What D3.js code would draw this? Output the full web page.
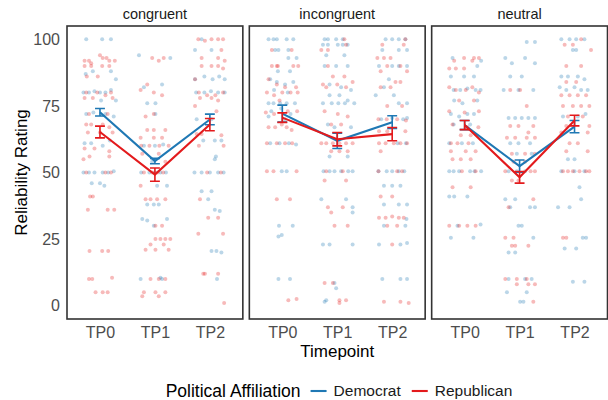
<!DOCTYPE html>
<html>
<head>
<meta charset="utf-8">
<script src="https://cdn.jsdelivr.net/npm/d3@7"></script>
<style>
  html, body { margin: 0; padding: 0; background: #fff; }
  svg { display: block; font-family: "Liberation Sans", Arial, sans-serif; }
</style>
</head>
<body>
<svg id="chart" width="608" height="400"></svg>
<script>
// ---------------- DATA ----------------
const facets = ["congruent", "incongruent", "neutral"];
const timepoints = ["TP0", "TP1", "TP2"];
const parties = ["Democrat", "Republican"];
const yTicks = [0, 25, 50, 75, 100];

// means and error-bar half widths per facet (rows) x timepoint (cols)
const demMeans = [[72.6, 54.3, 69.9], [72.1, 61.9, 68.9], [67.8, 52.4, 67.2]];
const demErr   = [[1.4, 1.0, 2.0], [3.2, 2.9, 2.4], [1.7, 2.3, 2.3]];
const repMeans = [[65.2, 49.2, 68.0], [70.6, 62.5, 64.4], [67.8, 48.2, 69.5]];
const repErr   = [[2.2, 2.5, 2.3], [1.8, 2.5, 2.5], [1.7, 2.2, 2.0]];

// individual ratings: [horizontal jitter (category units), rating]
const congruentTP0Dem = [[-0.25,100],[0.04,100],[0.2,100],[-0.26,87],[-0.13,88],[0.2,88],[0.29,85],[-0.3,80],[-0.2,80],[-0.1,80.5],[0,80],[0.1,80],[0.2,81],[0.02,77],[0.29,77],[-0.25,72],[-0.12,72.5],[0.1,72],[0.25,71],[-0.28,61],[-0.16,61],[0.05,60],[0.18,62],[-0.3,50],[-0.2,50],[-0.1,50],[0.05,50],[0.15,50],[0.25,50.5],[-0.15,46],[0,46],[0.08,45]];
const congruentTP0Rep = [[0,94],[0.05,93],[0.12,93],[0.17,92],[-0.28,92],[-0.2,92],[-0.16,91],[0.27,92],[-0.28,90],[-0.16,90],[0.04,90],[0.17,90],[-0.24,86],[-0.04,86],[-0.25,80],[-0.05,80],[0.1,79],[0.2,80],[-0.28,78],[-0.13,78],[0.23,78],[-0.2,72],[0.14,72],[-0.25,68],[-0.16,68],[0.05,68],[0.17,67],[-0.22,65],[0,65],[0.23,65],[-0.28,59],[-0.1,59],[0.17,58],[-0.3,55],[-0.19,56],[0.17,56],[-0.25,50],[0.1,50],[0.2,50],[-0.18,41],[-0.13,41],[-0.22,36],[0.14,36],[0.26,36],[-0.19,20.5],[0.04,20.5],[0.15,20.5],[-0.2,10],[-0.14,10],[0.22,10.5],[-0.08,5],[0.05,5],[0.14,5]];
const congruentTP1Dem = [[-0.29,94],[0.28,93],[-0.2,82],[0.13,83],[-0.14,76],[0.01,76],[0.01,72],[-0.2,60],[0,60],[0.15,60.5],[-0.05,54],[-0.25,50],[-0.1,50],[0,50],[0.1,50],[0.2,50],[0.04,45],[0.22,45],[-0.14,38],[-0.02,38],[0.07,38],[-0.23,32.5],[-0.14,32],[0.22,32.5],[-0.02,30],[-0.26,10],[0.13,10],[0.1,10.5]];
const congruentTP1Rep = [[-0.05,93],[0.07,92],[0.16,93],[-0.26,81],[-0.14,83],[-0.02,80],[0.13,79],[-0.17,71],[-0.02,72],[-0.14,66],[-0.02,66],[0.19,66],[-0.26,63],[-0.02,63],[0.13,63],[-0.25,60],[-0.1,60],[0.08,60],[0.25,60],[-0.23,57],[0.07,57],[0.19,54],[-0.2,50],[-0.05,50],[0.05,50],[0.15,50],[-0.26,45],[-0.17,40],[-0.08,40],[0.04,40],[0.19,40],[0.01,30],[0.13,30],[0.01,25],[0.1,25],[0.19,25],[0.28,25],[-0.08,23],[0.16,23],[-0.17,21],[0.01,21],[0.25,21],[-0.08,10],[0.07,10],[0.19,10],[-0.2,5],[0.01,5],[0.19,5],[-0.23,3.5],[0.07,3.5]];
const congruentTP2Dem = [[-0.15,100],[-0.27,96],[0.03,96],[-0.27,85],[-0.1,86],[0.05,85],[0.17,86],[0.27,85],[-0.25,80],[-0.1,80],[0.02,80.5],[0.15,80],[0.27,80],[-0.24,70],[0.03,70],[-0.12,62],[0.09,62],[0.21,62],[0.09,55],[0.11,56],[-0.28,50],[-0.15,50],[0,50],[0.15,50],[0.25,50],[-0.15,43],[0.03,43],[-0.03,40],[0.09,36],[0.18,35.5],[0.03,20.5],[0.12,20.5],[0.21,20],[0.13,10]];
const congruentTP2Rep = [[-0.21,100],[-0.09,99.5],[0.03,100],[0.15,100],[0.24,100],[0.21,96],[-0.15,93],[0.15,93],[0.27,92],[-0.15,90],[0.03,90],[0.15,90],[0.24,89],[-0.27,85],[-0.2,80],[-0.05,79],[0.1,79],[0.24,80],[-0.18,78],[0.03,78],[0.15,77],[-0.27,75],[0.12,73],[-0.24,64.5],[-0.15,64.5],[0.21,64],[-0.2,60],[0.25,60],[-0.05,50],[0.2,50],[-0.18,40],[-0.03,33],[0.15,33],[0.24,27],[-0.21,27],[-0.12,12],[-0.09,12],[0.15,12],[0.26,1]];

const incongruentTP0Dem = [[-0.25,100],[-0.16,100],[-0.1,100],[0.08,100],[0.2,100],[-0.13,96],[-0.07,96],[0.11,96],[0.11,93],[0.26,93],[-0.08,88],[0.14,88],[-0.22,85],[-0.1,84],[0.05,83],[0.2,84],[-0.15,81],[0.1,80],[-0.25,76],[-0.16,76],[-0.04,76],[0.08,76],[0.23,76],[-0.2,73],[-0.02,74],[0.15,72],[-0.25,71],[0.05,70],[-0.22,61],[-0.05,61],[0.12,61],[0.25,60.5],[-0.01,50.5],[0.08,50.5],[-0.06,30],[0.19,30],[-0.07,26],[-0.01,26.5],[-0.07,10],[0.14,10]];
const incongruentTP0Rep = [[-0.19,96],[0.17,96],[-0.19,90],[-0.1,90],[-0.08,90],[0.2,90],[0.29,90],[-0.25,85],[-0.1,83],[0.05,82],[0.25,82],[-0.28,80],[-0.15,79],[0,80],[0.15,80],[0.28,80],[-0.05,77],[-0.3,72.5],[-0.15,72],[0.1,73],[0.27,73],[-0.25,67],[-0.13,67],[-0.01,68],[0.08,67],[0.17,66],[-0.28,61],[-0.1,61],[0.05,61],[0.18,61],[-0.28,50.5],[-0.16,50.5],[0.26,50.5],[-0.1,40],[0.14,40],[0.11,2],[0.26,2.5]];
const incongruentTP1Dem = [[-0.23,100],[-0.17,100],[-0.02,100],[0.1,100],[-0.26,98],[-0.17,98],[0.01,98],[0.1,98],[0.19,98],[-0.2,94],[0.13,94],[-0.23,90],[-0.02,90],[0.19,90],[-0.14,83],[0.07,82],[0.25,81],[-0.14,79],[0.04,79],[0.19,77],[0.31,76],[-0.26,76],[-0.1,76],[0.02,76],[0.14,76],[-0.17,68],[-0.05,67],[0.25,67],[-0.14,56],[0.19,56],[-0.25,50.5],[-0.14,50.5],[-0.05,50.5],[0.07,50.5],[0.2,50.5],[0.28,50.5],[-0.29,40],[0.16,40],[0.28,37],[0.28,35],[-0.26,23],[-0.14,23],[0.28,23],[-0.05,8.5],[-0.02,6.5],[-0.2,2],[-0.23,1.5]];
const incongruentTP1Rep = [[0.13,100],[0.16,98],[-0.29,96],[-0.17,96],[-0.17,90],[-0.08,86],[0.13,86],[-0.26,83],[-0.2,82],[0,83],[0.16,82],[0.28,84],[-0.23,73],[0.01,72],[0.19,71],[-0.11,68],[0.07,68],[-0.29,61],[-0.2,61],[-0.08,61],[0.04,61],[0.16,61],[0.28,61],[-0.11,58],[0.04,58],[0.19,58],[-0.2,50.5],[0.1,50.5],[-0.23,47],[0.16,47],[-0.17,37],[0.1,37],[-0.11,35],[-0.05,30],[0.19,30],[-0.23,8.5],[-0.08,8.5],[0.04,2],[0.16,2],[0.04,1]];
const incongruentTP2Dem = [[-0.12,100],[0,100],[0.12,100],[0.24,100],[-0.18,96],[0.12,96],[0.27,96],[-0.24,90],[0,90],[0.12,90],[0.27,90],[-0.06,85],[-0.15,82],[-0.3,79],[0.03,79],[0.12,76],[0.27,76],[-0.2,70],[0,70.5],[0.2,70],[0.27,70.5],[0.1,61],[0.25,61],[-0.25,50.5],[-0.1,50.5],[0,50.5],[0.12,50.5],[0.22,50.5],[-0.15,45],[0,45],[0.15,45],[-0.15,38],[0.12,38],[0.27,38],[-0.15,30],[0.24,30],[0.26,32.5],[-0.24,23],[0.15,23],[0.27,23.5],[-0.18,10],[0.15,10],[0.27,10]];
const incongruentTP2Rep = [[0.24,100],[-0.18,98],[0.21,98],[-0.27,93],[-0.15,93],[-0.03,93],[-0.09,90],[0.15,90],[-0.21,88],[0.27,88],[0.06,84],[0.15,84],[-0.21,82],[-0.03,82],[-0.09,75],[0.18,75],[-0.25,70],[-0.1,70],[0.09,70],[0.25,69.5],[-0.24,65.5],[-0.09,65.5],[0.24,65.5],[-0.24,61],[-0.12,61],[0.03,61],[0.15,61],[0.27,61],[-0.21,58],[-0.25,50.5],[0.09,50.5],[0.18,50.5],[-0.21,41],[0,41],[-0.24,33],[-0.12,33],[0,33.5],[0.12,33],[0.21,33],[-0.09,30],[0.09,30],[0,23],[-0.15,1.5],[0.15,1.5],[0.3,1]];

const neutralTP0Dem = [[-0.22,93],[0.3,92],[0.23,90],[-0.25,86],[-0.01,86],[0.17,86],[-0.2,81],[-0.08,81],[0.05,81.5],[0.2,81],[0.29,81],[-0.19,77],[-0.04,76],[0.23,77],[-0.25,72],[-0.1,71],[0.05,72],[0.17,72],[-0.2,68],[0.1,68],[-0.28,61],[-0.05,61],[0.15,61],[-0.28,50.5],[-0.2,50.5],[-0.1,50.5],[0.1,50.5],[0.18,50.5],[0.3,50.5],[-0.28,41],[-0.19,41],[0.05,41],[0.29,30.5],[-0.13,30],[-0.25,25.5],[0.16,25.5]];
const neutralTP0Rep = [[-0.19,92],[-0.01,93],[0.14,92],[0.17,93],[0.26,93],[-0.28,89],[-0.16,89],[-0.01,89],[-0.28,82],[-0.16,81],[0.02,81],[0.14,82],[0.26,80],[-0.1,77],[0.17,77],[-0.28,73],[0,72.5],[0.26,73],[-0.22,68],[0.05,67],[0.25,67],[-0.07,64],[0.11,64],[-0.25,61],[-0.13,61],[0.07,61],[-0.25,58],[0.02,58],[0.2,58],[-0.22,55],[-0.07,55],[0.11,55],[-0.05,50.5],[0.2,50.5],[-0.22,44.5],[0.11,44.5],[-0.28,30],[-0.1,30],[0.05,30],[0.2,30]];
const neutralTP1Dem = [[0.13,99],[0.28,99],[-0.26,93],[0.1,93],[-0.14,91],[0.28,91],[-0.17,86],[0.04,86],[-0.29,81],[-0.02,81],[0.25,81],[-0.2,70.5],[-0.08,70.5],[0.04,70.5],[0.16,70.5],[0.28,70.5],[-0.17,61],[-0.02,61],[0.19,61],[-0.05,57],[0.22,57],[-0.2,50.5],[-0.05,50.5],[0.1,50.5],[-0.26,40],[-0.08,40],[-0.17,37],[0.19,37],[0.28,37],[-0.02,30],[0.04,30],[0.25,25.5],[-0.2,20],[-0.08,20],[-0.2,10],[0.1,10],[0.22,10],[-0.23,5],[0.13,5],[0.01,1.5],[0.07,1.5]];
const neutralTP1Rep = [[-0.17,81],[0.01,81],[0.13,75],[-0.17,67.5],[-0.02,67.5],[0.25,67.5],[0.16,65],[-0.23,63],[-0.08,63],[0.13,63],[0.28,63],[-0.14,57],[0.1,57],[0.28,57],[-0.11,54],[0.1,54],[-0.26,50.5],[0.2,50.5],[0.28,50.5],[-0.14,47],[-0.02,47],[0.25,40],[-0.2,37],[-0.26,25.5],[-0.11,25.5],[-0.08,22.5],[-0.14,22.5],[0.16,22.5],[-0.26,10],[-0.05,10],[0.13,10],[-0.05,8],[0.16,8],[0.28,8],[0.25,1.5]];
const neutralTP2Dem = [[-0.24,100],[-0.09,100],[0.03,100],[0.18,100],[-0.03,96],[0.03,96],[-0.24,86],[-0.12,86],[0.06,86],[0.18,85],[-0.27,82],[-0.15,81],[0,82],[0.12,81],[0.24,81],[-0.21,71],[0.06,71],[0.2,72],[-0.12,55],[0,55],[-0.24,50.5],[0,50.5],[0.18,50.5],[0.09,44.5],[0.12,40],[-0.3,37],[-0.09,37],[0.15,25.5],[0.21,25.5],[-0.18,21.5],[0.03,21.5],[-0.03,9],[0.18,9]];
const neutralTP2Rep = [[0.12,100],[-0.18,98],[-0.03,98],[0.3,96],[-0.15,90],[0.12,90],[-0.15,84],[0.03,84],[-0.24,79],[-0.09,79],[0.06,79],[0.21,79],[-0.21,75],[-0.03,75],[0.12,75],[0.27,75],[-0.12,71],[0.15,71],[-0.15,67.5],[0.27,67.5],[-0.24,65],[0.24,65],[-0.09,61],[0.06,61],[-0.15,58],[0.24,58],[-0.21,50.5],[-0.12,50.5],[-0.03,50.5],[0.09,50.5],[0.21,50.5],[0.27,50.5],[-0.21,25.5],[-0.15,25.5]];

// ---------------- ASSEMBLY ----------------
const pointTable = {
  congruent:   { TP0: [congruentTP0Dem, congruentTP0Rep], TP1: [congruentTP1Dem, congruentTP1Rep], TP2: [congruentTP2Dem, congruentTP2Rep] },
  incongruent: { TP0: [incongruentTP0Dem, incongruentTP0Rep], TP1: [incongruentTP1Dem, incongruentTP1Rep], TP2: [incongruentTP2Dem, incongruentTP2Rep] },
  neutral:     { TP0: [neutralTP0Dem, neutralTP0Rep], TP1: [neutralTP1Dem, neutralTP1Rep], TP2: [neutralTP2Dem, neutralTP2Rep] }
};
const meanTable = { Democrat: [demMeans, demErr], Republican: [repMeans, repErr] };

const colors = d3.scaleOrdinal().domain(parties).range(["#1F78B4", "#E31A1C"]);

const svg = d3.select("#chart");
const W = 608, H = 400;
const margin = { left: 67, right: 0.5, top: 26, bottom: 81 };
const gap = 6.5;
const panelW = (W - margin.left - margin.right - 2 * gap) / 3;
const panelTop = margin.top, panelBottom = H - margin.bottom;

const y = d3.scaleLinear().domain([-5, 105]).range([panelBottom, panelTop]);
const x = d3.scalePoint().domain(timepoints).range([0, panelW]).padding(0.6);
const step = x.step();

const fontTick = 16, tickColor = "#4D4D4D";

// y axis
const yAxis = d3.axisLeft(y).tickValues(yTicks).tickSize(0).tickPadding(7);
const yg = svg.append("g").attr("transform", `translate(${margin.left},0)`).call(yAxis);
yg.select(".domain").remove();
yg.selectAll("text").attr("font-size", fontTick).attr("fill", tickColor)
  .attr("font-family", "Liberation Sans, Arial, sans-serif");

facets.forEach((f, fi) => {
  const px = margin.left + fi * (panelW + gap);
  const g = svg.append("g").attr("transform", `translate(${px},0)`);

  // strip label
  g.append("text").attr("x", panelW / 2).attr("y", 18.5).attr("text-anchor", "middle")
    .attr("font-size", 14.5).attr("fill", "#1A1A1A").text(f);

  // points
  const pts = [];
  timepoints.forEach(tp => {
    parties.forEach((p, pi) => {
      pointTable[f][tp][pi].forEach(d => pts.push({ tp, party: p, dx: d[0], v: d[1] }));
    });
  });
  g.append("g").selectAll("circle").data(pts).join("circle")
    .attr("cx", d => x(d.tp) + d.dx * step)
    .attr("cy", d => y(d.v))
    .attr("r", 2)
    .attr("fill", d => colors(d.party))
    .attr("fill-opacity", 0.3);

  // lines + error bars
  parties.forEach(p => {
    const [means, errs] = meanTable[p];
    const rows = timepoints.map((tp, ti) => ({ tp, m: means[fi][ti], e: errs[fi][ti] }));
    const col = colors(p);
    const eg = g.append("g");
    eg.selectAll("path.eb").data(rows).join("path").attr("class", "eb")
      .attr("d", d => {
        const cx = x(d.tp), hw = 0.09 * step;
        const t = y(d.m + d.e), b = y(d.m - d.e);
        return `M${cx - hw},${t}H${cx + hw}M${cx},${t}V${b}M${cx - hw},${b}H${cx + hw}`;
      })
      .attr("fill", "none").attr("stroke", col).attr("stroke-width", 1.6);
    eg.append("path").datum(rows)
      .attr("d", d3.line().x(d => x(d.tp)).y(d => y(d.m)))
      .attr("fill", "none").attr("stroke", col).attr("stroke-width", 2.1);
  });

  // panel border
  g.append("rect").attr("x", 0).attr("y", panelTop).attr("width", panelW)
    .attr("height", panelBottom - panelTop).attr("fill", "none")
    .attr("stroke", "#333333").attr("stroke-width", 1.6);

  // x axis
  const xg = g.append("g").attr("transform", `translate(0,${panelBottom})`)
    .call(d3.axisBottom(x).tickSize(0).tickPadding(8));
  xg.select(".domain").remove();
  xg.selectAll("text").attr("font-size", fontTick).attr("fill", tickColor)
    .attr("font-family", "Liberation Sans, Arial, sans-serif");
});

// axis titles
svg.append("text").attr("x", margin.left + (W - margin.left - margin.right) / 2).attr("y", 357)
  .attr("text-anchor", "middle").attr("font-size", 17).attr("fill", "#000").text("Timepoint");
svg.append("text").attr("transform", `translate(27,${(panelTop + panelBottom) / 2}) rotate(-90)`)
  .attr("text-anchor", "middle").attr("font-size", 17).attr("fill", "#000").text("Reliability Rating");

// legend
const lg = svg.append("g");
const ly = 391;
const title = lg.append("text").attr("x", 0).attr("y", ly).attr("dy", "0.35em")
  .attr("font-size", 17.5).attr("fill", "#000").text("Political Affiliation");
let cur = title.node().getComputedTextLength() + 10;
parties.forEach((p, i) => {
  lg.append("line").attr("x1", cur).attr("x2", cur + 16).attr("y1", ly).attr("y2", ly)
    .attr("stroke", colors(p)).attr("stroke-width", 2.1);
  cur += 23;
  const t = lg.append("text").attr("x", cur).attr("y", ly).attr("dy", "0.35em")
    .attr("font-size", 15.5).attr("fill", "#1A1A1A").text(p);
  cur += t.node().getComputedTextLength() + (i === 0 ? 11 : 0);
});
lg.attr("transform", `translate(${339 - cur / 2},0)`);
</script>
</body>
</html>
